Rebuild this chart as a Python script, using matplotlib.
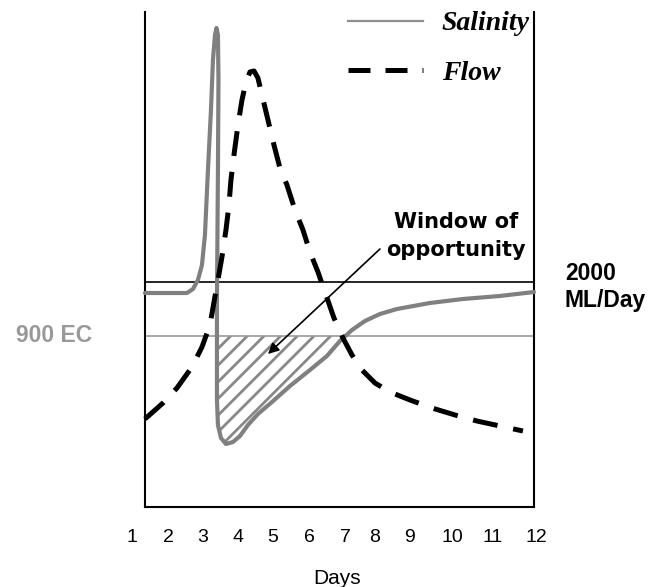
import numpy as np
import matplotlib
matplotlib.use("Agg")
import matplotlib.pyplot as plt
from matplotlib.lines import Line2D

# ---- data (x in days, y in relative units 0-100) ----
tick_labels = ["1", "2", "3", "4", "5", "6", "7", "8", "9", "10", "11", "12"]
tick_pos = [1.0, 1.98, 2.933, 3.886, 4.839, 5.819, 6.799, 7.616, 8.569, 9.712, 10.829, 12.0]

sal_x = [1.354, 2.497, 2.661, 2.797, 2.906, 2.987, 3.069, 3.151, 3.205, 3.260, 3.301,
         3.341, 3.355, 3.341, 3.314, 3.314, 3.341, 3.423, 3.559, 3.750, 3.940, 4.158,
         4.430, 4.812, 5.302, 5.846, 6.309, 6.663, 6.990, 7.344, 7.752, 8.215, 9.113,
         10.012, 11.019, 11.945]
sal_y = [43.23, 43.23, 44.04, 45.86, 48.89, 54.95, 68.08, 80.20, 90.30, 95.35, 96.77,
         95.35, 86.26, 68.08, 41.82, 21.62, 16.57, 13.94, 12.73, 13.13, 14.34, 16.57,
         18.79, 21.21, 24.44, 27.68, 30.51, 33.54, 35.76, 37.58, 38.99, 40.00, 41.21,
         42.02, 42.63, 43.43]

flow_x = [1.354, 1.844, 2.225, 2.634, 2.906, 3.124, 3.233, 3.341, 3.450, 3.559, 3.641,
          3.695, 3.777, 3.886, 3.995, 4.104, 4.213, 4.322, 4.430, 4.539, 4.703, 4.866,
          5.029, 5.220, 5.438, 5.656, 5.846, 6.064, 6.282, 6.500, 6.745, 6.990, 7.262,
          7.616, 8.024, 8.569, 9.168, 9.794, 10.393, 11.019, 11.645]
flow_y = [17.78, 21.01, 24.04, 28.28, 32.32, 36.77, 41.41, 45.86, 50.51, 55.96, 61.01,
          66.06, 71.11, 77.17, 82.22, 85.86, 87.88, 88.08, 86.67, 83.23, 78.18, 73.13,
          68.48, 65.05, 60.00, 55.96, 51.52, 47.47, 42.83, 38.18, 34.14, 30.71, 27.68,
          25.05, 23.23, 21.62, 20.00, 18.59, 17.37, 16.36, 15.35]

flow_threshold = 45.45   # 2000 ML/Day
sal_threshold = 34.55    # 900 EC

x_left, x_right = 1.354, 11.945

# ---- figure ----
plt.rcParams['hatch.linewidth'] = 2.0
fig = plt.figure(figsize=(6.49, 5.87), dpi=100)
ax = fig.add_axes([0.1807, 0.13629, 0.6678, 0.8433])
ax.set_xlim(0.6, 12.4)
ax.set_ylim(0, 100)

ax.spines['top'].set_visible(False)
for s in ['left', 'right', 'bottom']:
    ax.spines[s].set_linewidth(1.5)
ax.spines['left'].set_position(('data', x_left))
ax.spines['right'].set_position(('data', x_right))
ax.spines['bottom'].set_bounds(x_left, x_right)
ax.set_yticks([])

ax.set_xticks(tick_pos, labels=tick_labels)
ax.tick_params(axis='x', length=0, pad=16, labelsize=14)
for t in ax.get_xticklabels():
    t.set_family('Liberation Sans')
ax.set_xlabel('Days', fontsize=15, family='Liberation Sans', labelpad=16)
ax.xaxis.set_label_coords(337 / 649, 0, transform=fig.transFigure)
ax.xaxis.label.set_va('center')
ax.xaxis.label.set_position((337 / 649, 1 - 578 / 587))

# threshold lines
ax.hlines(flow_threshold, x_left, x_right, color='black', lw=1.2, zorder=2)
ax.hlines(sal_threshold, x_left, x_right, color='#999999', lw=1.2, zorder=2)

# hatched window
sx = np.array(sal_x[14:])
sy = np.array(sal_y[14:])
ax.fill_between(sx, sy, sal_threshold, where=sy <= sal_threshold, interpolate=True,
                facecolor='none', edgecolor='#888888', hatch='//', linewidth=0, zorder=1)

# curves
ax.plot(sal_x, sal_y, color='#808080', lw=3, solid_joinstyle='round',
        solid_capstyle='round', zorder=3)
ax.plot(flow_x, flow_y, color='black', lw=3.6, dashes=(5.0, 3.2),
        dash_capstyle='butt', zorder=4)

# arrow + annotation
ax.annotate('', xy=(4.703, 30.91), xytext=(7.752, 52.12),
            arrowprops=dict(arrowstyle='-|>', color='black', lw=1.2,
                            mutation_scale=16, shrinkA=0, shrinkB=0), zorder=5)
fig.text(456 / 649, 1 - 236 / 587, 'Window of\nopportunity', ha='center', va='center',
         fontsize=15, fontweight='bold', family='DejaVu Sans', linespacing=1.45)

fig.text(565 / 649, 1 - 287 / 587, '2000\nML/Day', ha='left', va='center',
         fontsize=16.5, fontweight='bold', family='Liberation Sans', linespacing=1.2)
fig.text(54 / 649, 1 - 335 / 587, '900 EC', ha='center', va='center',
         fontsize=16.5, fontweight='bold', family='Liberation Sans', color='#999999')

# legend
handles = [Line2D([], [], color='#909090', lw=1.6),
           Line2D([], [], color='black', lw=3.6, dashes=(4.4, 3.0), dash_capstyle='butt')]
leg = ax.legend(handles, ['Salinity', 'Flow'], loc='upper left',
                bbox_to_anchor=(348 / 649, 1 - 11 / 587), bbox_transform=fig.transFigure,
                frameon=False, borderpad=0, borderaxespad=0, handlelength=2.7,
                handletextpad=0.68, labelspacing=0.85,
                prop=dict(family='Liberation Serif', weight='bold', style='italic', size=20))

fig.savefig('out.png', dpi=100)
